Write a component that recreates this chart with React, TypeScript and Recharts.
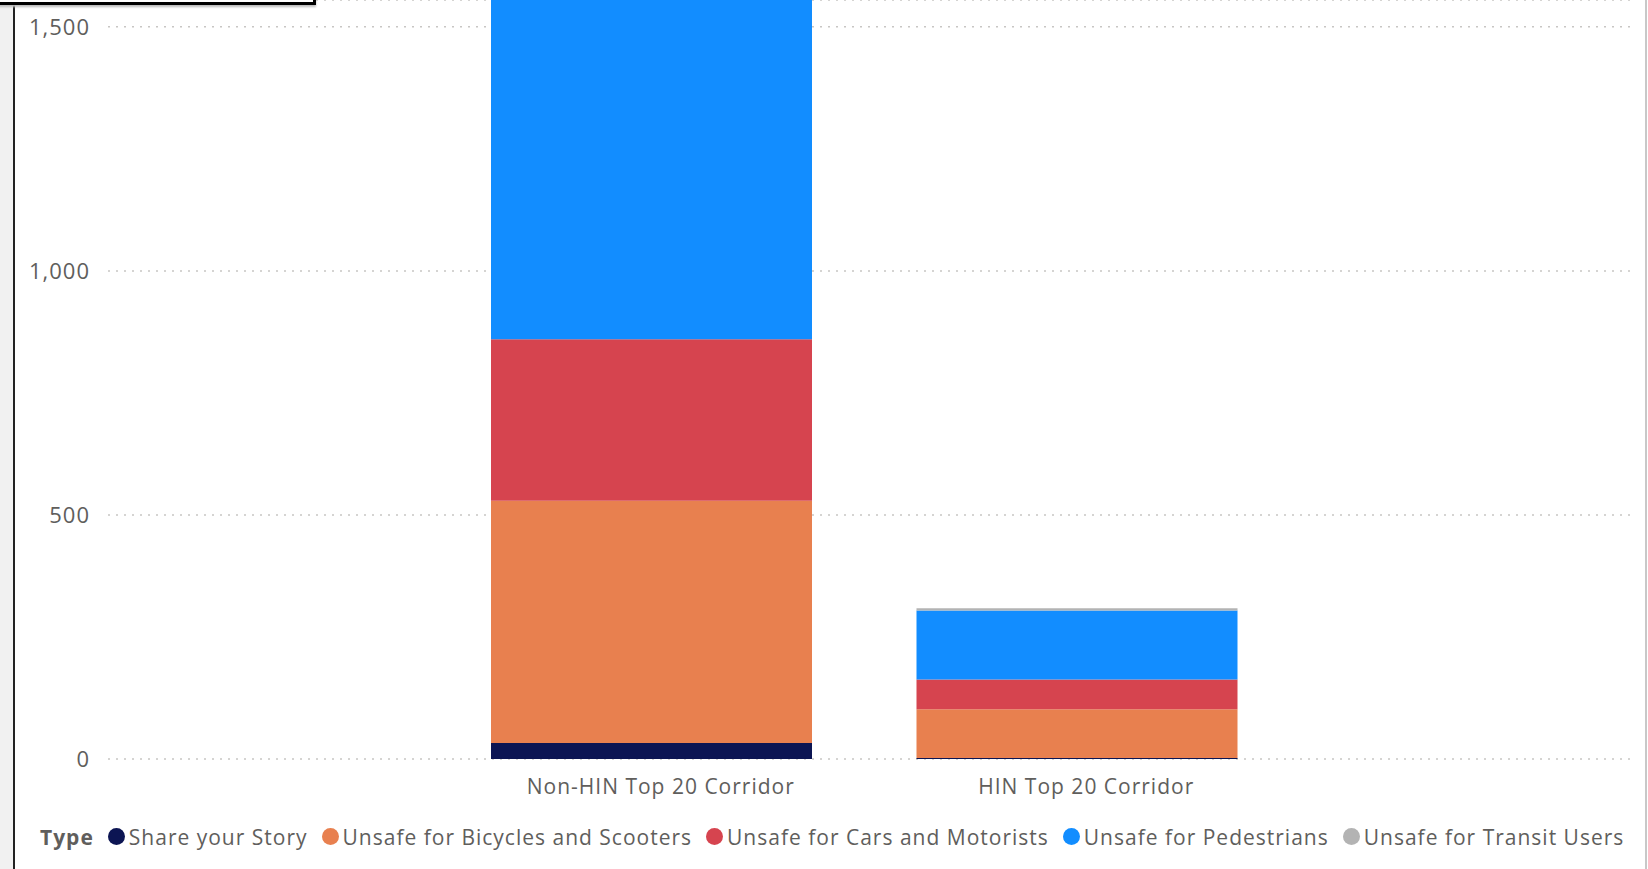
import { Bar, BarChart, CartesianGrid, Legend, XAxis, YAxis } from "recharts";

const categories = ["Non-HIN Top 20 Corridor", "HIN Top 20 Corridor"];
const shareStory = [33, 2];
const bikes = [496, 100];
const cars = [331, 61];
const pedestrians = [700, 141];
const transit = [10, 5];

const yTicks = [0, 500, 1000, 1500];

const series = [
  { key: "share", name: "Share your Story", color: "#0c1553", values: shareStory },
  { key: "bikes", name: "Unsafe for Bicycles and Scooters", color: "#e8804f", values: bikes },
  { key: "cars", name: "Unsafe for Cars and Motorists", color: "#d6444f", values: cars },
  { key: "peds", name: "Unsafe for Pedestrians", color: "#128dff", values: pedestrians },
  { key: "transit", name: "Unsafe for Transit Users", color: "#b3b3b3", values: transit },
];

const data = categories.map((name, i) => {
  const row: Record<string, string | number> = { name };
  series.forEach(s => {
    row[s.key] = s.values[i];
  });
  return row;
});

const FONT = "'Segoe UI', 'Open Sans', sans-serif";
const TEXT = "#605e5c";

// ラベル付き凡例
const TypeLegend = () => (
  <div
    style={{
      display: "flex",
      alignItems: "center",
      fontFamily: FONT,
      fontSize: 21,
      letterSpacing: 1,
      color: TEXT,
      whiteSpace: "nowrap",
      height: 29,
    }}
  >
    <span style={{ fontWeight: 700, marginRight: 14 }}>Type</span>
    {series.map(s => (
      <span key={s.key} style={{ display: "flex", alignItems: "center", marginRight: 14 }}>
        <span
          style={{
            width: 17,
            height: 17,
            borderRadius: "50%",
            background: s.color,
            marginRight: 4,
            display: "inline-block",
          }}
        />
        {s.name}
      </span>
    ))}
  </div>
);

export default function App() {
  return (
    <div
      style={{
        position: "absolute",
        left: 0,
        top: 0,
        width: 1648,
        height: 869,
        background: "#fff",
        overflow: "hidden",
      }}
    >
      {/* 左側の枠 */}
      <div style={{ position: "absolute", left: 0, top: 0, width: 13, height: 869, background: "#f1f1f1" }} />
      <div style={{ position: "absolute", left: 13, top: 0, width: 2, height: 869, background: "#222" }} />
      <div style={{ position: "absolute", left: 1645, top: 0, width: 2, height: 869, background: "#c8c8c8" }} />
      {/* 上のボックスの下端 */}
      <div
        style={{
          position: "absolute",
          left: -10,
          top: -20,
          width: 323,
          height: 22,
          borderRight: "3px solid #000",
          borderBottom: "3px solid #000",
          boxShadow: "0 2px 2px #bbb",
          background: "#fff",
          zIndex: 2,
        }}
      />
      <div style={{ position: "absolute", left: 0, top: 0 }}>
        <BarChart
          width={1648}
          height={869}
          data={data}
          margin={{ top: 0, right: 17, left: 0, bottom: 0 }}
          barSize={321}
        >
          <CartesianGrid
            vertical={false}
            stroke="#c8c6c4"
            strokeDasharray="2 6"
            strokeWidth={1.5}
          />
          <XAxis
            dataKey="name"
            padding={{ left: 331, right: 341 }}
            axisLine={false}
            tickLine={false}
            tickMargin={14}
            height={81}
            interval={0}
            tick={{ fill: TEXT, fontSize: 21, fontFamily: FONT, letterSpacing: 1, dx: 9 }}
          />
          <YAxis
            width={108}
            domain={[0, 1555]}
            ticks={yTicks}
            allowDataOverflow
            axisLine={false}
            tickLine={false}
            tickMargin={12}
            tickFormatter={(v: number) => v.toLocaleString("en-US")}
            tick={{ fill: TEXT, fontSize: 22, fontFamily: FONT, letterSpacing: 1 }}
          />
          <Legend
            verticalAlign="bottom"
            height={29}
            content={<TypeLegend />}
            wrapperStyle={{ left: 40, bottom: 18, width: "auto" }}
          />
          {series.map(s => (
            <Bar
              key={s.key}
              dataKey={s.key}
              name={s.name}
              stackId="a"
              fill={s.color}
              isAnimationActive={false}
            />
          ))}
        </BarChart>
      </div>
    </div>
  );
}
